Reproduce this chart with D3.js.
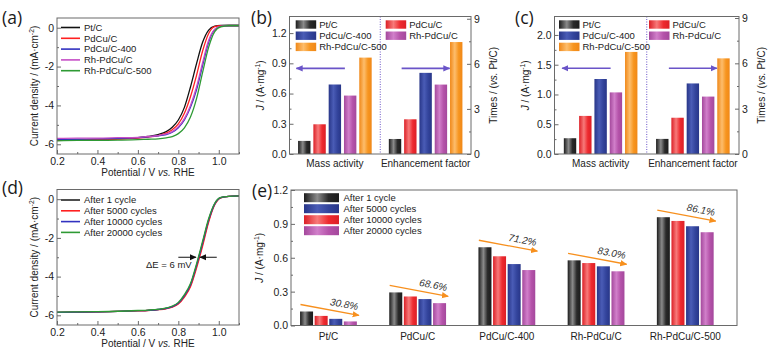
<!DOCTYPE html>
<html><head><meta charset="utf-8">
<script src="https://cdn.jsdelivr.net/npm/d3@7"></script>
<style>body{margin:0;background:#fff}svg{display:block}</style>
</head><body><svg id="c" width="779" height="357"></svg>
<script>
// ---------------- DATA ----------------
const potentials = [0.2,0.3,0.4,0.5,0.6,0.65,0.7,0.74,0.77,0.8,0.83,0.86,0.89,0.92,0.95,0.98,1.01,1.05,1.1];
const lsvNames = ["Pt/C","PdCu/C","PdCu/C-400","Rh-PdCu/C","Rh-PdCu/C-500"];
const lsvPtC        = [-5.80,-5.78,-5.76,-5.72,-5.66,-5.60,-5.50,-5.35,-5.12,-4.75,-4.10,-3.05,-1.85,-0.75,-0.12,0.08,0.12,0.13,0.13];
const lsvPdCuC      = [-5.78,-5.77,-5.75,-5.73,-5.68,-5.63,-5.55,-5.43,-5.25,-4.95,-4.40,-3.55,-2.45,-1.20,-0.30,0.05,0.10,0.10,0.10];
const lsvPdCuC400   = [-5.75,-5.74,-5.72,-5.70,-5.66,-5.62,-5.57,-5.50,-5.38,-5.15,-4.75,-4.10,-3.20,-1.95,-0.75,-0.10,0.07,0.10,0.10];
const lsvRhPdCuC    = [-5.70,-5.68,-5.68,-5.66,-5.64,-5.60,-5.55,-5.47,-5.35,-5.10,-4.68,-4.00,-3.05,-1.80,-0.65,-0.08,0.07,0.10,0.10];
const lsvRhPdCuC500 = [-5.82,-5.80,-5.80,-5.79,-5.76,-5.74,-5.72,-5.67,-5.60,-5.45,-5.15,-4.60,-3.65,-2.30,-1.00,-0.20,0.05,0.10,0.10];
const lsvColors = ["#111111","#ff2020","#3232c0","#c64ec6","#2e9a34"];

const cycleNames = ["After 1 cycle","After 5000 cycles","After 10000 cycles","After 20000 cycles"];
const cyc1     = [-5.85,-5.83,-5.82,-5.80,-5.76,-5.74,-5.70,-5.64,-5.55,-5.38,-5.00,-4.45,-3.45,-2.30,-1.10,-0.25,0.08,0.15,0.17];
const cyc5000  = [-5.85,-5.83,-5.82,-5.80,-5.77,-5.75,-5.71,-5.66,-5.58,-5.42,-5.06,-4.53,-3.56,-2.42,-1.18,-0.29,0.07,0.15,0.17];
const cyc10000 = [-5.85,-5.83,-5.82,-5.80,-5.76,-5.74,-5.70,-5.64,-5.55,-5.37,-4.98,-4.42,-3.42,-2.26,-1.07,-0.24,0.08,0.15,0.17];
const cyc20000 = [-5.84,-5.82,-5.81,-5.79,-5.75,-5.73,-5.69,-5.62,-5.52,-5.33,-4.93,-4.36,-3.34,-2.17,-1.00,-0.21,0.09,0.15,0.17];
const cycColors = ["#222222","#ff2020","#3232c0","#2e9a34"];

const catalysts = ["Pt/C","PdCu/C","PdCu/C-400","Rh-PdCu/C","Rh-PdCu/C-500"];
const barGroups = ["Mass activity","Enhancement factor"];
const massActivityB = [0.13,0.295,0.69,0.58,0.957];
const enhancementB  = [1.0,2.31,5.4,4.62,7.45];
const massActivityC = [0.265,0.64,1.26,1.035,1.715];
const enhancementC  = [1.0,2.4,4.67,3.8,6.33];

const stabAfter1     = [0.124,0.293,0.693,0.577,0.959];
const stabAfter5000  = [0.085,0.257,0.613,0.553,0.926];
const stabAfter10000 = [0.059,0.234,0.544,0.524,0.879];
const stabAfter20000 = [0.036,0.198,0.491,0.480,0.826];
const retention = ["30.8%","68.6%","71.2%","83.0%","86.1%"];

const barKeys = ["black","red","blue","magenta","orange"];
const catalystColorKeys = ["black","red","blue","magenta","orange"];
const stabBarKeys = ["black","red","blue","magenta"];
const stabLegendKeys = ["black","blue","red","magenta"];

// ---------------- STYLE ----------------
const FONT = '"Liberation Sans", Arial, sans-serif';
const FRAME = "#6a6a6a";
const TXT = "#222";
const barPalette = {
  black:   {edge:"#1c1c1c", mid:"#8a8a8a", base:"#2a2a2a"},
  red:     {edge:"#dc1f26", mid:"#f77a7a", base:"#ee2a2f"},
  blue:    {edge:"#283688", mid:"#4a5cb6", base:"#33449c"},
  magenta: {edge:"#a4489c", mid:"#d17fca", base:"#b553aa"},
  orange:  {edge:"#f08818", mid:"#fdbd6c", base:"#f7951f"}
};
const ARROW_PURPLE = "#6a54c8";
const ARROW_ORANGE = "#f7901e";

const svg = d3.select("#c");
svg.append("rect").attr("width",779).attr("height",357).attr("fill","#fff");
const defs = svg.append("defs");
Object.entries(barPalette).forEach(([k,p]) => {
  const g = defs.append("linearGradient").attr("id","grad-"+k).attr("x1",0).attr("x2",1).attr("y1",0).attr("y2",0);
  g.append("stop").attr("offset",0).attr("stop-color",p.edge);
  g.append("stop").attr("offset",0.38).attr("stop-color",p.mid);
  g.append("stop").attr("offset",0.7).attr("stop-color",p.base);
  g.append("stop").attr("offset",1).attr("stop-color",p.edge);
});
function addHead(id,color){
  defs.append("marker").attr("id",id).attr("viewBox","0 0 10 10").attr("refX",9).attr("refY",5)
    .attr("markerWidth",7).attr("markerHeight",7).attr("markerUnits","userSpaceOnUse").attr("orient","auto")
    .append("path").attr("d","M0,0.5 L10,5 L0,9.5 Z").attr("fill",color);
}
addHead("hPurple",ARROW_PURPLE); addHead("hOrange",ARROW_ORANGE); addHead("hBlack","#111");

// ---------------- HELPERS ----------------
function frame(x0,x1,y0,y1){
  svg.append("rect").attr("x",x0).attr("y",y0).attr("width",x1-x0).attr("height",y1-y0)
    .attr("fill","none").attr("stroke",FRAME).attr("stroke-width",1);
}
function styleAxis(a,size){
  a.select(".domain").remove();
  a.selectAll("line").attr("stroke",FRAME);
  a.selectAll("text").attr("font-size",size).attr("fill",TXT).attr("font-family",FONT);
}
function axisY(scale,x,major,minor,fmt,side){
  const mk = side==="right" ? d3.axisRight : d3.axisLeft;
  const a = svg.append("g").attr("transform",`translate(${x},0)`)
    .call(mk(scale).tickValues(major).tickSizeInner(-4).tickSizeOuter(0).tickPadding(3).tickFormat(fmt));
  styleAxis(a,10.5);
  const m = svg.append("g").attr("transform",`translate(${x},0)`)
    .call(mk(scale).tickValues(minor).tickSizeInner(-2).tickSizeOuter(0).tickFormat(""));
  styleAxis(m,10.5);
}
function axisX(scale,y,major,minor,fmt){
  const a = svg.append("g").attr("transform",`translate(0,${y})`)
    .call(d3.axisBottom(scale).tickValues(major).tickSizeInner(-4).tickSizeOuter(0).tickPadding(4).tickFormat(fmt));
  styleAxis(a,10.5);
  const m = svg.append("g").attr("transform",`translate(0,${y})`)
    .call(d3.axisBottom(scale).tickValues(minor).tickSizeInner(-2).tickSizeOuter(0).tickFormat(""));
  styleAxis(m,10.5);
}
function text(x,y,parts,opt={}){
  const t = svg.append("text").attr("x",x).attr("y",y).attr("font-family",FONT)
    .attr("font-size",opt.size||10).attr("fill",opt.fill||TXT)
    .attr("text-anchor",opt.anchor||"middle");
  if(opt.rotate!==undefined) t.attr("transform",`rotate(${opt.rotate},${x},${y})`);
  if(opt.italic) t.attr("font-style","italic");
  parts.forEach(p=>{
    if(typeof p==="string"){ t.append("tspan").text(p); }
    else {
      const s = t.append("tspan").text(p.t);
      if(p.i) s.attr("font-style","italic");
      if(p.sup){ s.attr("font-size",(opt.size||10)*0.68).attr("dy",-4); }
      if(p.after){ s.attr("dy",4); }
    }
  });
  return t;
}
function panelLabel(x,y,s){
  svg.append("text").attr("x",x).attr("y",y).attr("font-family",'"Open Sans", "DejaVu Sans", sans-serif')
    .attr("font-size",17.5).attr("fill","#1a1a1a").text(s);
}
const tickInt = d => String(d).replace("\u2212","-");
const f1 = d3.format(".1f");

// ---------------- LSV PANELS (a) & (d) ----------------
function lsvPanel(box, seriesList, colors, names, legend){
  const x = d3.scaleLinear().domain([0.2,1.1]).range([box.x0,box.x1]);
  const y = d3.scaleLinear().domain([-6.5,0.5]).range([box.y1,box.y0]);
  const line = d3.line().x((d,i)=>x(potentials[i])).y(d=>y(d)).curve(d3.curveMonotoneX);
  seriesList.forEach((s,i)=>{
    svg.append("path").attr("d",line(s)).attr("fill","none").attr("stroke",colors[i]).attr("stroke-width",1.3);
  });
  frame(box.x0,box.x1,box.y0,box.y1);
  axisY(y,box.x0,[0,-2,-4,-6],[-1,-3,-5],tickInt,"left");
  axisX(x,box.y1,[0.2,0.4,0.6,0.8,1.0],[0.3,0.5,0.7,0.9,1.1],f1);
  // legend
  names.forEach((n,i)=>{
    const ly = legend.y + i*legend.step;
    svg.append("line").attr("x1",box.x0+4).attr("x2",box.x0+23).attr("y1",ly).attr("y2",ly)
      .attr("stroke",colors[i]).attr("stroke-width",1.6);
    text(box.x0+27,ly+3.3,[n],{anchor:"start",size:9.5});
  });
  text(box.x0-19,(box.y0+box.y1)/2,["Current density / (mA\u00b7cm",{t:"-2",sup:true},{t:")",after:true}],{rotate:-90,size:10});
  text((box.x0+box.x1)/2,box.y1+22,["Potential / V ",{t:"vs.",i:true}," RHE"],{size:10});
  return {x,y};
}
const A = {x0:57,x1:239,y0:18,y1:154};
lsvPanel(A,[lsvPtC,lsvPdCuC,lsvPdCuC400,lsvRhPdCuC,lsvRhPdCuC500],lsvColors,lsvNames,{y:27.5,step:10.8});
panelLabel(2,24,"(a)");

const D = {x0:57,x1:239,y0:189.5,y1:325};
const dS = lsvPanel(D,[cyc1,cyc5000,cyc10000,cyc20000],cycColors,cycleNames,{y:200,step:10.8});
panelLabel(2,194,"(d)");
// Delta E annotation
svg.append("line").attr("x1",dS.x(0.8)).attr("x2",dS.x(0.887)).attr("y1",dS.y(-3)).attr("y2",dS.y(-3))
  .attr("stroke","#111").attr("stroke-width",1).attr("marker-end","url(#hBlack)");
svg.append("line").attr("x1",dS.x(0.99)).attr("x2",dS.x(0.907)).attr("y1",dS.y(-3)).attr("y2",dS.y(-3))
  .attr("stroke","#111").attr("stroke-width",1).attr("marker-end","url(#hBlack)");
text(dS.x(0.753),dS.y(-3.55),["\u0394E = 6 mV"],{size:9.5});

// ---------------- BAR PANELS (b) & (c) ----------------
function barPanel(box, leftMax, rightMax, leftTicks, leftMinor, mass, enh, arrowY, legendX){
  const g = d3.scalePoint().domain(barGroups).range([box.x0,box.x1]).padding(0.5);
  const inner = d3.scaleBand().domain(catalysts).range([-38.25,38.25]).paddingInner(0.19).paddingOuter(0.095);
  const yl = d3.scaleLinear().domain([0,leftMax]).range([box.y1,box.y0]);
  const yr = d3.scaleLinear().domain([0,rightMax]).range([box.y1,box.y0]);
  const groups = [{name:barGroups[0],vals:mass,y:yl},{name:barGroups[1],vals:enh,y:yr}];
  groups.forEach(gr=>{
    svg.append("g").selectAll("rect").data(gr.vals).join("rect")
      .attr("x",(d,i)=>g(gr.name)+inner(catalysts[i]))
      .attr("width",inner.bandwidth())
      .attr("y",d=>gr.y(d)).attr("height",d=>box.y1-gr.y(d))
      .attr("fill",(d,i)=>`url(#grad-${barKeys[i]})`);
  });
  // divider
  const mid = (g(barGroups[0])+g(barGroups[1]))/2;
  svg.append("line").attr("x1",mid).attr("x2",mid).attr("y1",box.y0).attr("y2",box.y1)
    .attr("stroke",ARROW_PURPLE).attr("stroke-width",1).attr("stroke-dasharray","1,1.5");
  // arrows
  svg.append("line").attr("x1",g(barGroups[0])+10).attr("x2",g(barGroups[0])-38.5).attr("y1",yl(arrowY)).attr("y2",yl(arrowY))
    .attr("stroke",ARROW_PURPLE).attr("stroke-width",1.6).attr("marker-end","url(#hPurple)");
  svg.append("line").attr("x1",g(barGroups[1])-24).attr("x2",g(barGroups[1])+24).attr("y1",yl(arrowY)).attr("y2",yl(arrowY))
    .attr("stroke",ARROW_PURPLE).attr("stroke-width",1.6).attr("marker-end","url(#hPurple)");
  frame(box.x0,box.x1,box.y0,box.y1);
  axisY(yl,box.x0,leftTicks,leftMinor,f1,"left");
  axisY(yr,box.x1,[0,3,6,9],[1.5,4.5,7.5],tickInt,"right");
  barGroups.forEach(n=> text(g(n),box.y1+13,[n],{size:10}));
  // legend
  const legendPos = [[0,0],[1,0],[0,1],[1,1],[0,2]];
  catalysts.forEach((c,i)=>{
    const lx = legendX[legendPos[i][0]], ly = 24.5 + legendPos[i][1]*11.2;
    svg.append("rect").attr("x",lx).attr("y",ly-4.2).attr("width",20.5).attr("height",8.4)
      .attr("fill",`url(#grad-${catalystColorKeys[i]})`);
    text(lx+23.5,ly+3.3,[c],{anchor:"start",size:9.5});
  });
  text(box.x0-26,(box.y0+box.y1)/2,[{t:"J",i:true}," / (A\u00b7mg",{t:"-1",sup:true},{t:")",after:true}],{rotate:-90,size:10});
  text(box.x1+26,(box.y0+box.y1)/2,["Times / (",{t:"vs.",i:true}," Pt/C)"],{rotate:-90,size:10});
}
const B = {x0:289.5,x1:471,y0:16.5,y1:154};
barPanel(B,1.365,9.15,[0,0.3,0.6,0.9,1.2],[0.15,0.45,0.75,1.05],massActivityB,enhancementB,0.85,[295.7,385.7]);
panelLabel(251,24,"(b)");
const C = {x0:554.5,x1:739,y0:16.5,y1:154};
barPanel(C,2.31,9.1,[0,0.5,1.0,1.5,2.0],[0.25,0.75,1.25,1.75],massActivityC,enhancementC,1.44,[559,649]);
panelLabel(515,24,"(c)");

// ---------------- STABILITY PANEL (e) ----------------
const E = {x0:291,x1:737,y0:190,y1:325.5};
const ex = d3.scalePoint().domain(catalysts).range([E.x0,E.x1]).padding(0.5).align(0.42);
const einner = d3.scaleBand().domain(cycleNames).range([-29.2,29.2]).paddingInner(0.11).paddingOuter(0.055);
const ey = d3.scaleLinear().domain([0,1.2]).range([E.y1,E.y0]);
const stabSeries = [stabAfter1,stabAfter5000,stabAfter10000,stabAfter20000];
stabSeries.forEach((vals,s)=>{
  svg.append("g").selectAll("rect").data(vals).join("rect")
    .attr("x",(d,i)=>ex(catalysts[i])+einner(cycleNames[s]))
    .attr("width",einner.bandwidth())
    .attr("y",d=>ey(d)).attr("height",d=>E.y1-ey(d))
    .attr("fill",`url(#grad-${stabBarKeys[s]})`);
});
// retention arrows
const slope = 11/59;
catalysts.forEach((c,i)=>{
  const cx = ex(c);
  const xs = cx-28, xe = cx+30.5;
  const ys = ey(stabAfter1[i])-7;
  const ye = ys + (xe-xs)*slope;
  svg.append("line").attr("x1",xs).attr("y1",ys).attr("x2",xe).attr("y2",ye)
    .attr("stroke",ARROW_ORANGE).attr("stroke-width",1.3).attr("marker-end","url(#hOrange)");
  const tx = cx+15, ty = ys + (tx-xs)*slope - 5;
  const ang = Math.atan(slope)*180/Math.PI;
  svg.append("text").attr("x",tx).attr("y",ty).attr("text-anchor","middle")
    .attr("transform",`rotate(${ang},${tx},${ty})`)
    .attr("font-family",FONT).attr("font-size",10).attr("font-style","italic").attr("fill","#333")
    .text(retention[i]);
});
frame(E.x0,E.x1,E.y0,E.y1);
axisY(ey,E.x0,[0,0.3,0.6,0.9,1.2],[0.15,0.45,0.75,1.05],f1,"left");
catalysts.forEach(c=> text(ex(c),E.y1+14,[c],{size:10}));
cycleNames.forEach((n,i)=>{
  const ly = 197.7 + i*11;
  svg.append("rect").attr("x",304).attr("y",ly-4.5).attr("width",35).attr("height",9)
    .attr("fill",`url(#grad-${stabLegendKeys[i]})`);
  text(343.5,ly+3.3,[n],{anchor:"start",size:9.5});
});
text(E.x0-28,(E.y0+E.y1)/2,[{t:"J",i:true}," / (A\u00b7mg",{t:"-1",sup:true},{t:")",after:true}],{rotate:-90,size:10});
panelLabel(252,197,"(e)");
</script></body></html>
